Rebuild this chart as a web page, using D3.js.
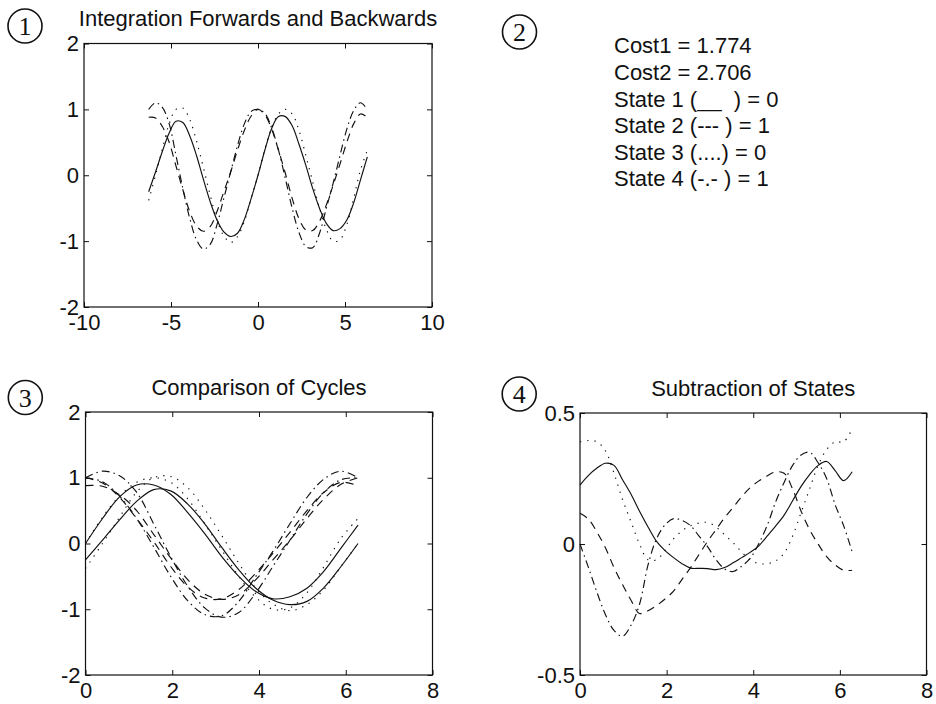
<!DOCTYPE html>
<html><head><meta charset="utf-8">
<script src="https://cdn.jsdelivr.net/npm/d3@7/dist/d3.min.js"></script>
<style>
body{margin:0;background:#fff;}
svg text{font-family:"Liberation Sans", Arial, Helvetica, sans-serif;fill:#111;}
</style></head><body>
<svg id="chart" width="936" height="704"></svg>
<script>
// ---------- DATA ----------
// one cycle sampled at pi/8 steps (x values)
const cycleX = [0,0.3927,0.7854,1.1781,1.5708,1.9635,2.3562,2.7489,3.1416,3.5343,3.9270,4.3197,4.7124,5.1051,5.4978,5.8905,6.2832];
// cycle 1 (backwards, x in [-2pi,0] shifted by +2pi) and cycle 2 (forwards, x in [0,2pi])
const state1Cycle1 = [-0.25,0.05,0.36,0.64,0.82,0.80,0.60,0.30,-0.06,-0.40,-0.68,-0.86,-0.93,-0.88,-0.67,-0.35,0.00];
const state1Cycle2 = [0.00,0.38,0.71,0.89,0.89,0.75,0.47,0.15,-0.20,-0.50,-0.73,-0.84,-0.81,-0.68,-0.42,-0.07,0.28];
const state2Cycle1 = [0.88,0.87,0.74,0.50,0.14,-0.22,-0.55,-0.77,-0.85,-0.78,-0.55,-0.25,0.05,0.38,0.68,0.90,1.00];
const state2Cycle2 = [1.00,0.92,0.70,0.38,0.03,-0.35,-0.66,-0.83,-0.84,-0.70,-0.45,-0.15,0.17,0.50,0.78,0.93,0.88];
const state3Cycle1 = [-0.38,0.00,0.40,0.78,1.00,1.02,0.85,0.52,0.12,-0.30,-0.68,-0.92,-1.02,-0.93,-0.70,-0.35,0.00];
const state3Cycle2 = [0.00,0.40,0.72,0.93,1.00,0.93,0.68,0.30,-0.10,-0.50,-0.82,-1.00,-0.98,-0.75,-0.35,0.08,0.38];
const state4Cycle1 = [1.00,1.10,1.03,0.78,0.30,-0.20,-0.65,-0.98,-1.12,-1.05,-0.75,-0.35,0.05,0.45,0.78,0.97,1.00];
const state4Cycle2 = [1.00,0.94,0.72,0.38,-0.05,-0.50,-0.87,-1.08,-1.10,-0.88,-0.50,-0.12,0.30,0.70,0.98,1.10,1.00];

// subtraction of states, sampled at pi/16 steps
const diffX = [0,0.1963,0.3927,0.5890,0.7854,0.9817,1.1781,1.3744,1.5708,1.7671,1.9635,2.1598,2.3562,2.5525,2.7489,2.9452,3.1416,3.3379,3.5343,3.7306,3.9270,4.1233,4.3197,4.5160,4.7124,4.9087,5.1051,5.3014,5.4978,5.6941,5.8905,6.0868,6.2832];
const state1Diff = [0.225,0.262,0.290,0.308,0.300,0.245,0.190,0.125,0.065,0.010,-0.025,-0.052,-0.075,-0.092,-0.093,-0.094,-0.098,-0.090,-0.072,-0.052,-0.032,-0.008,0.030,0.068,0.110,0.165,0.220,0.265,0.300,0.315,0.280,0.242,0.276];
const state2Diff = [0.117,0.095,0.045,-0.015,-0.090,-0.155,-0.215,-0.265,-0.255,-0.235,-0.210,-0.180,-0.135,-0.090,-0.040,0.010,0.055,0.100,0.140,0.180,0.215,0.240,0.260,0.275,0.270,0.210,0.125,0.055,0.000,-0.048,-0.080,-0.100,-0.100];
const state3Diff = [0.390,0.395,0.390,0.355,0.270,0.170,0.085,0.000,-0.060,-0.060,-0.025,0.020,0.050,0.070,0.080,0.082,0.065,0.035,0.005,-0.030,-0.060,-0.075,-0.075,-0.065,-0.035,0.030,0.120,0.210,0.300,0.360,0.390,0.390,0.440];
const state4Diff = [0.000,-0.090,-0.185,-0.270,-0.330,-0.352,-0.310,-0.230,-0.080,0.020,0.073,0.097,0.090,0.070,0.030,-0.010,-0.060,-0.095,-0.105,-0.085,-0.055,0.000,0.070,0.160,0.235,0.300,0.340,0.350,0.310,0.250,0.150,0.070,-0.030];

const plot1XTicks = [-10,-5,0,5,10];
const plot1YTicks = [-2,-1,0,1,2];
const plot3XTicks = [0,2,4,6,8];
const plot3YTicks = [-2,-1,0,1,2];
const plot4XTicks = [0,2,4,6,8];
const plot4YTicks = [-0.5,0,0.5];

const titles = ["Integration Forwards and Backwards","Comparison of Cycles","Subtraction of States"];
const panelNumbers = ["1","2","3","4"];
const legendLines = ["Cost1 = 1.774","Cost2 = 2.706","State 1 (__  ) = 0","State 2 (--- ) = 1","State 3 (....) = 0","State 4 (-.- ) = 1"];

// ---------- STYLE ----------
const styles = [
  {dash:null},            // state 1 solid
  {dash:"8,6"},           // state 2 dashed
  {dash:"1.3,6"},         // state 3 dotted
  {dash:"8,4,1.5,4"}      // state 4 dash-dot
];
const INK = "#111";
const svg = d3.select("#chart");

function panel(opts){
  const {x0,x1,yb,yt,xDom,yDom,xTicks,yTicks,title} = opts;
  const x = d3.scaleLinear().domain(xDom).range([x0,x1]);
  const y = d3.scaleLinear().domain(yDom).range([yb,yt]);
  const g = svg.append("g");
  const fmt = d => String(d);
  const ax = (a)=>a.tickSizeOuter(0).tickFormat(fmt);
  g.append("g").attr("transform",`translate(0,${yb})`)
    .call(ax(d3.axisBottom(x).tickValues(xTicks).tickSizeInner(-5).tickPadding(7.5)));
  g.append("g").attr("transform",`translate(${x0},0)`)
    .call(ax(d3.axisLeft(y).tickValues(yTicks).tickSizeInner(-5).tickPadding(5)));
  g.append("g").attr("transform",`translate(0,${yt})`)
    .call(d3.axisTop(x).tickValues(xTicks).tickSizeInner(-5).tickSizeOuter(0).tickFormat(""));
  g.append("g").attr("transform",`translate(${x1},0)`)
    .call(d3.axisRight(y).tickValues(yTicks).tickSizeInner(-5).tickSizeOuter(0).tickFormat(""));
  g.selectAll(".domain").remove();
  g.selectAll(".tick line").attr("stroke",INK).attr("stroke-width",1);
  g.selectAll(".tick text").attr("font-size",22).attr("fill",INK)
    .style("font-family",'"Liberation Sans", Arial, sans-serif');
  g.append("rect").attr("x",x0).attr("y",yt).attr("width",x1-x0).attr("height",yb-yt)
    .attr("fill","none").attr("stroke",INK).attr("stroke-width",1.2);
  if(title){
    g.append("text").attr("x",(x0+x1)/2).attr("y",yt-17.5).attr("text-anchor","middle")
      .attr("font-size",22).text(title);
  }
  const line = d3.line().x(d=>x(d[0])).y(d=>y(d[1])).curve(d3.curveCatmullRom.alpha(0.5));
  return {g,x,y,line};
}

function drawSeries(p, pts, style){
  p.g.append("path").datum(pts).attr("d",p.line)
    .attr("fill","none").attr("stroke",INK).attr("stroke-width",1.15)
    .attr("stroke-dasharray",style.dash)
    .attr("stroke-linecap","butt");
}

function circled(cx,cy,label){
  svg.append("circle").attr("cx",cx).attr("cy",cy).attr("r",17).attr("fill","none")
    .attr("stroke",INK).attr("stroke-width",1.6);
  svg.append("text").attr("x",cx).attr("y",cy+9).attr("text-anchor","middle")
    .attr("font-size",26).style("font-family",'"Liberation Serif","Times New Roman",serif')
    .text(label);
}

const cycles1 = [state1Cycle1,state2Cycle1,state3Cycle1,state4Cycle1];
const cycles2 = [state1Cycle2,state2Cycle2,state3Cycle2,state4Cycle2];
const diffs = [state1Diff,state2Diff,state3Diff,state4Diff];
const TWO_PI = cycleX[cycleX.length-1];

// Panel 1: integration forwards and backwards over [-2pi, 2pi]
const p1 = panel({x0:84,x1:432,yb:307,yt:43.5,xDom:[-10,10],yDom:[-2,2],
  xTicks:plot1XTicks,yTicks:plot1YTicks,title:titles[0]});
cycles1.forEach((c1,i)=>{
  const back = cycleX.map((xv,j)=>[xv-TWO_PI,c1[j]]);
  const fwd = cycleX.slice(1).map((xv,j)=>[xv,cycles2[i][j+1]]);
  drawSeries(p1, back.concat(fwd), styles[i]);
});

// Panel 3: comparison of cycles
const p3 = panel({x0:85.5,x1:432.5,yb:675,yt:412,xDom:[0,8],yDom:[-2,2],
  xTicks:plot3XTicks,yTicks:plot3YTicks,title:titles[1]});
[0,1,2,3].forEach(i=>{
  drawSeries(p3, cycleX.map((xv,j)=>[xv,cycles1[i][j]]), styles[i]);
  drawSeries(p3, cycleX.map((xv,j)=>[xv,cycles2[i][j]]), styles[i]);
});

// Panel 4: subtraction of states
const p4 = panel({x0:580,x1:926.5,yb:675,yt:413,xDom:[0,8],yDom:[-0.5,0.5],
  xTicks:plot4XTicks,yTicks:plot4YTicks,title:titles[2]});
diffs.forEach((d,i)=>drawSeries(p4, diffX.map((xv,j)=>[xv,d[j]]), styles[i]));

// Panel 2: text summary
const legend = svg.append("g");
legendLines.forEach((t,i)=>{
  legend.append("text").attr("x",614).attr("y",53.3+i*26.6).attr("font-size",22)
    .attr("xml:space","preserve").style("white-space","pre").text(t);
});

// circled panel numbers
circled(25,26,panelNumbers[0]);
circled(519.5,32,panelNumbers[1]);
circled(25.3,397.5,panelNumbers[2]);
circled(519.2,394,panelNumbers[3]);
</script>
</body></html>
